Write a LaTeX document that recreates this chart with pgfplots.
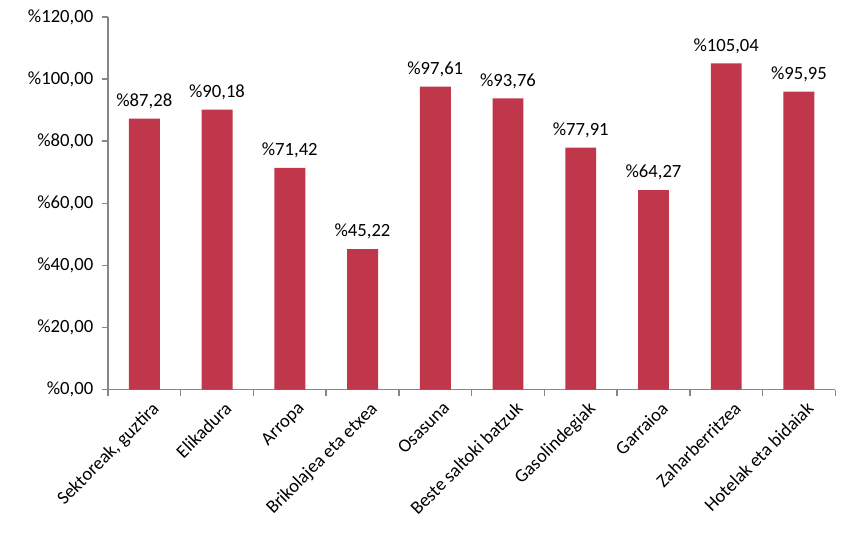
\documentclass[border=0pt]{standalone}
\usepackage{pgfplots}
\pgfplotsset{compat=1.18}
\usepackage{fontspec}
\setmainfont{Carlito}
\definecolor{barred}{HTML}{C0364A}
\definecolor{axisgrey}{HTML}{868686}
\begin{document}
\begin{tikzpicture}
\begin{axis}[
    scale only axis,
    width=546pt, height=279.75pt,
    xmin=-0.5, xmax=9.5,
    ymin=0, ymax=120,
    ytick={0,20,...,120},
    xtick={0,...,9},
    xticklabels={{Sektoreak, guztira}, Elikadura, Arropa, Brikolajea eta etxea, Osasuna, Beste saltoki batzuk, Gasolindegiak, Garraioa, Zaharberritzea, Hotelak eta bidaiak},
    minor xtick={-0.5,0.5,...,9.5},
    major x tick style={draw=none},
    tick align=outside,
    tick style={axisgrey, line width=1.2pt},
    major tick length=4.5pt,
    minor tick length=4.5pt,
    axis x line*=bottom,
    axis y line*=left,
    axis line style={axisgrey, line width=1.2pt, -},
    x tick label style={rotate=45, anchor=north east, font=\fontsize{14}{16}\selectfont, inner sep=1pt, yshift=-5pt, xshift=2pt},
    y tick label style={font=\fontsize{14}{16}\selectfont, xshift=-3pt},
    /pgf/number format/assume math mode=true,
    yticklabel={\%\pgfmathprintnumber[fixed,fixed zerofill,precision=2,use comma]{\tick}},
    nodes near coords={\%\pgfmathprintnumber[fixed,fixed zerofill,precision=2,use comma]{\pgfplotspointmeta}},
    nodes near coords style={font=\fontsize{14}{16}\selectfont, yshift=4pt},
    clip=false,
]
\addplot[ybar, bar width=23.25pt, fill=barred, draw=none] coordinates {
(0,87.28) (1,90.18) (2,71.42) (3,45.22) (4,97.61)
(5,93.76) (6,77.91) (7,64.27) (8,105.04) (9,95.95)};
\end{axis}
\useasboundingbox ([shift={(-81pt,-111.75pt)}]current axis.south west) rectangle ([shift={(8pt,12.75pt)}]current axis.north east);
\end{tikzpicture}
\end{document}
